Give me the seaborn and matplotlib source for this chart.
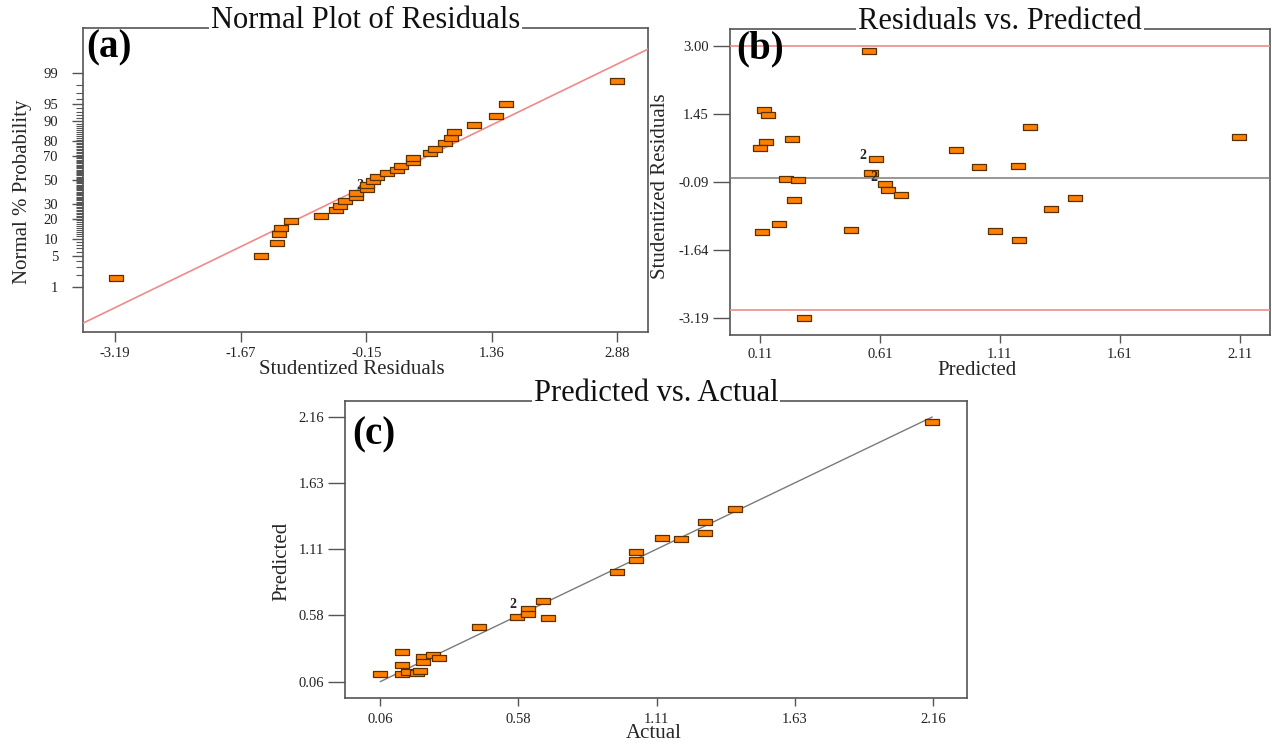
import math
import numpy as np
import pandas as pd
import matplotlib
matplotlib.use("Agg")
import matplotlib.pyplot as plt
import seaborn as sns

# ---------------- data ----------------
# (a) Normal plot of residuals
resid_a = [-3.18, -1.43, -1.23, -1.21, -1.19, -1.06, -0.70, -0.52, -0.47, -0.41,
           -0.285, -0.285, -0.147, -0.147, -0.07, -0.03, 0.09, 0.22, 0.27, 0.415,
           0.415, 0.61, 0.67, 0.80, 0.87, 0.91, 1.15, 1.41, 1.53, 2.87]
prob_a = [1.66, 4.9, 8.7, 12.0, 14.7, 18.6, 21.9, 25.5, 28.6, 32.2,
          35.3, 38.6, 42.5, 45.4, 48.9, 52.3, 55.8, 58.6, 61.9, 65.2,
          68.6, 72.3, 75.2, 78.8, 81.9, 85.2, 88.5, 91.9, 95.1, 98.4]
line_a_slope = 0.871      # reference line in normal-score units
line_a_intercept = 0.01
xticks_a = ["-3.19", "-1.67", "-0.15", "1.36", "2.88"]
yticks_a = [1, 5, 10, 20, 30, 50, 70, 80, 90, 95, 99]

# (b) Residuals vs. predicted
pred_b = [0.562, 0.125, 0.143, 0.135, 0.11, 0.243, 0.219, 0.266, 0.253, 0.19,
          0.118, 0.291, 0.49, 0.594, 0.572, 0.63, 0.642, 0.697, 0.927, 1.021,
          1.089, 1.186, 1.191, 1.237, 1.324, 1.425, 2.108]
resid_b = [2.886, 1.542, 1.42, 0.806, 0.677, 0.874, -0.023, -0.06, -0.515, -1.055,
           -1.23, -3.19, -1.184, 0.419, 0.10, -0.144, -0.273, -0.40, 0.624, 0.237,
           -1.207, 0.274, -1.426, 1.162, -0.706, -0.462, 0.927]
limit_b = 3.00
xticks_b = ["0.11", "0.61", "1.11", "1.61", "2.11"]
yticks_b = ["-3.19", "-1.64", "-0.09", "1.45", "3.00"]

# (c) Predicted vs. actual
actual_c = [0.06, 0.142, 0.142, 0.142, 0.165, 0.198, 0.211, 0.223, 0.221, 0.261,
            0.284, 0.436, 0.578, 0.622, 0.622, 0.678, 0.698, 0.958, 1.033, 1.033,
            1.129, 1.203, 1.295, 1.295, 1.41, 2.158]
pred_c = [0.121, 0.293, 0.195, 0.119, 0.137, 0.127, 0.145, 0.258, 0.218, 0.269,
          0.248, 0.493, 0.575, 0.638, 0.594, 0.699, 0.565, 0.932, 1.024, 1.09,
          1.196, 1.19, 1.325, 1.24, 1.431, 2.115]
ticks_c = ["0.06", "0.58", "1.11", "1.63", "2.16"]

# ---------------- style ----------------
sns.set_theme(style="ticks")
plt.rcParams["font.family"] = ["Liberation Serif", "DejaVu Serif"]

ORANGE = "#FF8000"
EDGE = "#5A3000"
PINK = "#F08A8A"
GREY = "#7A7A7A"
SPINE = "#555555"
RECT = [(-1, -0.45), (1, -0.45), (1, 0.45), (-1, 0.45), (-1, -0.45)]
TICK_FS = 10.5
LABEL_FS = 15
TITLE_FS = 22

W, H = 1272, 745
fig = plt.figure(figsize=(W / 100, H / 100), dpi=100)
fig.patch.set_facecolor("white")


def add_ax(l, t, r, b):
    return fig.add_axes([l / W, 1 - b / H, (r - l) / W, (b - t) / H])


def style_ax(ax, ylen=6, ypad=3, xlen=6, xpad=4):
    for s in ax.spines.values():
        s.set_visible(True)
        s.set_color(SPINE)
        s.set_linewidth(1.2)
    ax.tick_params(axis="x", direction="out", length=xlen, width=1, color=SPINE,
                   labelsize=TICK_FS, labelcolor="#222222", pad=xpad, top=False)
    ax.tick_params(axis="y", direction="out", length=ylen, width=1, color=SPINE,
                   labelsize=TICK_FS, labelcolor="#222222", pad=ypad, right=False)
    ax.grid(False)


def title(ax, txt):
    ax.text(0.5, 1.0, txt, transform=ax.transAxes, ha="center", va="baseline",
            fontsize=TITLE_FS, color="#111111", zorder=10, clip_on=False,
            bbox=dict(facecolor="white", edgecolor="none", pad=1.5))


def letter(x, y, txt):
    fig.text(x / W, 1 - y / H, txt, ha="left", va="baseline", fontsize=28,
             fontweight="bold", color="black")


def scatter(ax, x, y):
    sns.scatterplot(x=x, y=y, ax=ax, marker=RECT, s=104, color=ORANGE,
                    edgecolor=EDGE, linewidth=0.9, zorder=5, legend=False)


# probit scale helpers
def _phi(z):
    return 0.5 * (1 + math.erf(z / math.sqrt(2)))


def _probit(p):
    if not np.isfinite(p):
        return np.nan
    p = min(max(p, 1e-12), 1 - 1e-12)
    lo, hi = -9.0, 9.0
    for _ in range(55):
        mid = 0.5 * (lo + hi)
        if _phi(mid) < p:
            lo = mid
        else:
            hi = mid
    return 0.5 * (lo + hi)


def fwd(pct):
    a = np.asarray(pct, dtype=float)
    return np.array([_probit(v / 100.0) for v in a.ravel()]).reshape(a.shape)


def inv(z):
    a = np.asarray(z, dtype=float)
    return np.array([100 * _phi(v) if np.isfinite(v) else np.nan
                     for v in a.ravel()]).reshape(a.shape)


# ---------------- (a) ----------------
axa = add_ax(83, 28, 648, 332)
style_ax(axa, ylen=8, ypad=10, xlen=7, xpad=3.5)
axa.set_yscale("function", functions=(fwd, inv))
xlim_a = (-3.58, 3.25)
axa.set_xlim(*xlim_a)
axa.set_ylim(float(inv(-3.30)), float(inv(3.30)))
xa = np.array(xlim_a)
za = line_a_slope * xa + line_a_intercept
sns.lineplot(x=xa, y=inv(za), ax=axa, color=PINK, linewidth=1.2, zorder=3)
axa.annotate("2", xy=(resid_a[13], prob_a[13]), xytext=(-5, 0),
             textcoords="offset points", ha="center", va="center",
             fontsize=10, fontweight="bold", zorder=4)
scatter(axa, resid_a, prob_a)
axa.set_xticks(np.linspace(-3.19, 2.88, 5))
axa.set_xticklabels(xticks_a)
axa.set_yticks(yticks_a)
axa.set_yticklabels([str(v) for v in yticks_a])
axa.set_yticks([v for v in range(1, 100) if v not in yticks_a], minor=True)
axa.tick_params(axis="y", which="minor", length=5, width=0.8, color=SPINE, left=True)
axa.set_xlabel("Studentized Residuals", fontsize=LABEL_FS)
axa.set_ylabel("Normal % Probability", fontsize=LABEL_FS)
axa.xaxis.set_label_coords((351.7 - 83) / 565, (332 - 359.5) / 304)
axa.yaxis.set_label_coords((32 - 83) / 565, (332 - 191.7) / 304)
title(axa, "Normal Plot of Residuals")
letter(86, 57, "(a)")

# ---------------- (b) ----------------
axb = add_ax(729.5, 29.3, 1270, 335)
style_ax(axb, ylen=12, ypad=3, xlen=6, xpad=3)
axb.set_xlim(-0.018, 2.237)
axb.set_ylim(-3.58, 3.38)
axb.axhline(limit_b, color=PINK, linewidth=1.2, zorder=3)
axb.axhline(-limit_b, color=PINK, linewidth=1.2, zorder=3)
axb.axhline(0.0, color=GREY, linewidth=1.1, zorder=3)
axb.annotate("2", xy=(pred_b[13], resid_b[13]), xytext=(-9.5, 3),
             textcoords="offset points", ha="center", va="center",
             fontsize=10, fontweight="bold", zorder=4)
axb.annotate("2", xy=(pred_b[15], resid_b[15]), xytext=(-8, 5),
             textcoords="offset points", ha="center", va="center",
             fontsize=10, fontweight="bold", zorder=6)
scatter(axb, pred_b, resid_b)
axb.set_xticks(np.linspace(0.11, 2.11, 5))
axb.set_xticklabels(xticks_b)
axb.set_yticks(np.linspace(-3.19, 3.00, 5))
axb.set_yticklabels(yticks_b)
axb.set_xlabel("Predicted", fontsize=LABEL_FS)
axb.set_ylabel("Studentized Residuals", fontsize=LABEL_FS)
axb.xaxis.set_label_coords((976.7 - 729.5) / 540.5, (335 - 361) / 305.7)
axb.yaxis.set_label_coords((670 - 729.5) / 540.5, (335 - 186) / 305.7)
title(axb, "Residuals vs. Predicted")
letter(736, 58, "(b)")

# ---------------- (c) ----------------
axc = add_ax(345, 400.7, 967, 698.3)
style_ax(axc, ylen=12, ypad=3, xlen=6, xpad=4.5)
axc.set_xlim(-0.074, 2.29)
axc.set_ylim(-0.072, 2.287)
diag = np.array([min(actual_c), max(actual_c)])
sns.lineplot(x=diag, y=diag, ax=axc, color=GREY, linewidth=1.0, zorder=3)
axc.annotate("2", xy=(actual_c[13], pred_c[13]), xytext=(-11, 3),
             textcoords="offset points", ha="center", va="center",
             fontsize=10, fontweight="bold", zorder=6)
scatter(axc, actual_c, pred_c)
axc.set_xticks(np.linspace(0.06, 2.16, 5))
axc.set_xticklabels(ticks_c)
axc.set_yticks(np.linspace(0.06, 2.16, 5))
axc.set_yticklabels(ticks_c)
axc.set_xlabel("Actual", fontsize=LABEL_FS)
axc.set_ylabel("Predicted", fontsize=LABEL_FS)
axc.xaxis.set_label_coords((653.3 - 345) / 622, (698.3 - 724) / 297.6)
axc.yaxis.set_label_coords((291 - 345) / 622, (698.3 - 561) / 297.6)
title(axc, "Predicted vs. Actual")
letter(352, 444, "(c)")

fig.savefig("out.png", dpi=100, facecolor="white")
